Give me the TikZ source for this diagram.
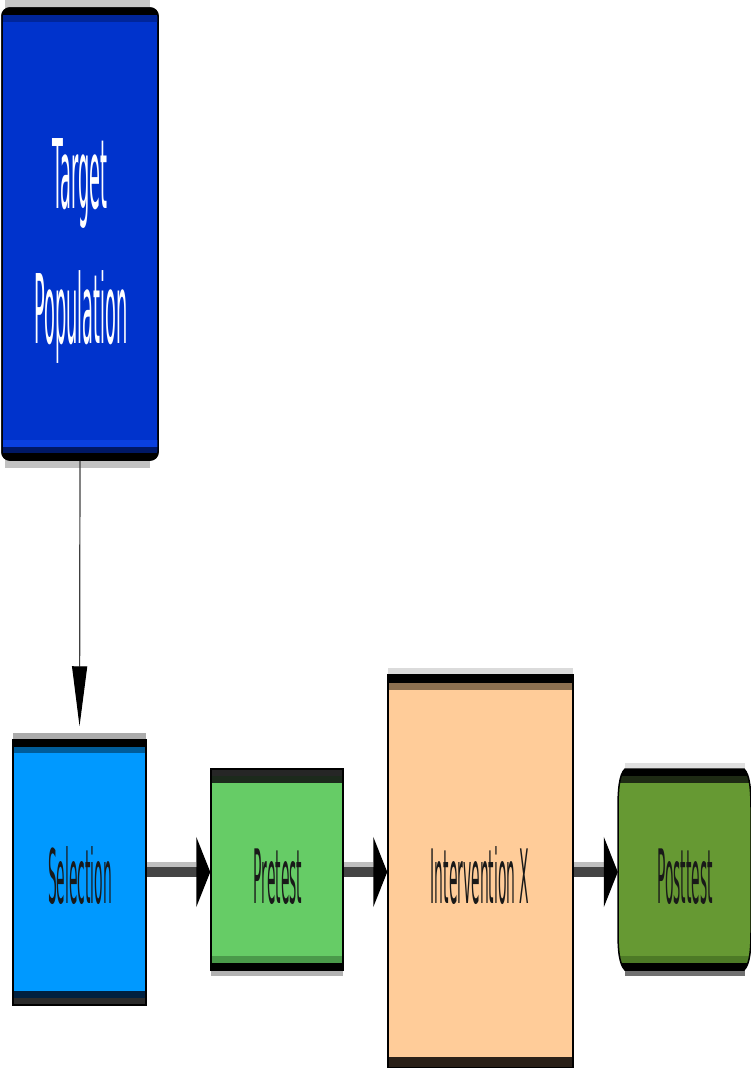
\documentclass[tikz,border=0pt]{standalone}
\usepackage{fontspec}
\setsansfont{DejaVu Sans}
\usetikzlibrary{arrows.meta,calc}
\definecolor{tblue}{HTML}{0033CC}
\definecolor{tbluedark}{HTML}{00259A}
\definecolor{tbluelight}{HTML}{0A40E0}
\definecolor{tbluenavy}{HTML}{001866}
\definecolor{sblue}{HTML}{0099FF}
\definecolor{sbluedark}{HTML}{005C99}
\definecolor{sbluenavy}{HTML}{002040}
\definecolor{pgreen}{HTML}{66CC66}
\definecolor{pgreendark}{HTML}{1C2A1C}
\definecolor{pgreenband}{HTML}{4A9A4A}
\definecolor{iorange}{HTML}{FFCC99}
\definecolor{ibrown}{HTML}{8C7050}
\definecolor{ibrowndark}{HTML}{2A2018}
\definecolor{ogreen}{HTML}{669933}
\definecolor{ogreendark}{HTML}{1E2A14}
\definecolor{ogreenband}{HTML}{4D7A26}
\definecolor{linedark}{HTML}{444444}
\newcommand{\sqz}[1]{\scalebox{0.185}[1]{#1}}
\tikzset{
  boxnode/.style={draw=black, line width=1.5pt, inner sep=0pt},
  ghostnode/.style={inner sep=0pt},
  lowtext/.style={anchor=base, inner sep=0pt, font=\sffamily\fontsize{75}{90}\selectfont, text=black!90},
  toptext/.style={anchor=base, inner sep=0pt, font=\sffamily\fontsize{96}{120}\selectfont, text=white},
  flowline/.style={draw=linedark, line width=10pt, -{Triangle[length=14pt 0 0, width=70pt 0 0, color=black]}},
  flowshadow/.style={draw=black!25, line width=5pt},
}
\begin{document}
\begin{tikzpicture}[x=1pt,y=-1pt]
\useasboundingbox[fill=white] (0,0) rectangle (751,1068);

% ---------- Target Population ----------
\fill[black!22] (5,0) rectangle (150,10);
\fill[black!24] (5,458) rectangle (150,468);
\node[boxnode, fill=tblue, rounded corners=8pt, minimum width=156pt, minimum height=452pt] (target) at (80,234) {};
\begin{scope}
  \clip[rounded corners=8pt] (2,8) rectangle (158,460);
  \fill[black] (2,8) rectangle (158,15);
  \fill[tbluedark] (2,15) rectangle (158,22);
  \fill[tbluelight] (2,440) rectangle (158,447);
  \fill[tbluenavy] (2,447) rectangle (158,453);
  \fill[black] (2,453) rectangle (158,460);
\end{scope}
\draw[black, line width=1.5pt, rounded corners=8pt] (2,8) rectangle (158,460);
\node[toptext] (ttarget) at (80,208) {\sqz{Target}};
\node[toptext] (tpop) at (81,343) {\sqz{Population}};

% ---------- Selection ----------
\fill[black!33] (13,733) rectangle (146,740);
\node[boxnode, fill=sblue, minimum width=133pt, minimum height=265pt] (selection) at (79.5,872.5) {};
\fill[black] (13,740) rectangle (146,747);
\fill[sbluedark] (13,747) rectangle (146,753);
\fill[sbluenavy] (13,991) rectangle (146,998);
\fill[black!83] (13,998) rectangle (146,1005);
\draw[black, line width=1.5pt] (13,740) rectangle (146,1005);
\node[lowtext] (tsel) at (80,903) {\sqz{Selection}};

% ---------- Pretest ----------
\fill[black!30] (211,970) rectangle (343,976);
\node[boxnode, fill=pgreen, minimum width=132pt, minimum height=201pt] (pretest) at (277,869.5) {};
\fill[black!85] (211,769) rectangle (343,776);
\fill[pgreendark] (211,776) rectangle (343,783);
\fill[pgreenband] (211,956) rectangle (343,963);
\fill[black] (211,963) rectangle (343,970);
\draw[black, line width=1.5pt] (211,769) rectangle (343,970);
\node[lowtext] (tpre) at (278,903) {\sqz{Pretest}};

% ---------- Intervention X ----------
\fill[black!14] (388,668) rectangle (573,675);
\node[boxnode, fill=iorange, minimum width=185pt, minimum height=393pt] (interv) at (480.5,871.5) {};
\fill[black] (388,675) rectangle (573,683);
\fill[ibrown] (388,683) rectangle (573,690);
\fill[ibrowndark] (388,1057) rectangle (573,1068);
\draw[black, line width=1.5pt] (388,675) rectangle (573,1068);
\node[lowtext] (tint) at (480,903) {\sqz{Intervention X}};

% ---------- Posttest ----------
\fill[black!12] (625,763) rectangle (745,769);
\fill[black!56] (625,970) rectangle (745,976);
\node[ghostnode, minimum width=132pt, minimum height=201pt] (posttest) at (684,869.5) {};
\begin{scope}
  \path[clip] (625,769) -- (744,769) .. controls (750,775) and (751,790) .. (751,810) -- (751,930)
     .. controls (751,950) and (750,964) .. (744,970) -- (625,970)
     .. controls (619,964) and (618,950) .. (618,930) -- (618,810)
     .. controls (618,790) and (619,775) .. (625,769) -- cycle;
  \fill[ogreen] (610,760) rectangle (760,980);
  \fill[black] (610,769) rectangle (760,776);
  \fill[ogreendark] (610,776) rectangle (760,783);
  \fill[ogreenband] (610,956) rectangle (760,963);
  \fill[black] (610,963) rectangle (760,970);
\end{scope}
\draw[black, line width=1.5pt] (625,769) -- (744,769) .. controls (750,775) and (751,790) .. (751,810) -- (751,930)
     .. controls (751,950) and (750,964) .. (744,970) -- (625,970)
     .. controls (619,964) and (618,950) .. (618,930) -- (618,810)
     .. controls (618,790) and (619,775) .. (625,769) -- cycle;
\node[lowtext] (tpost) at (685,903) {\sqz{Posttest}};

% ---------- Connectors ----------
\draw[black!75, line width=1.2pt, -{Triangle[length=60pt 0 0, width=15pt 0 0, color=black]}, shorten >=13pt] (target.south) -- (selection.north);

\coordinate (a1s) at ($(selection.east)+(0,-0.5)$);
\coordinate (a1e) at (pretest.west |- a1s);
\draw[flowshadow, shorten >=14pt] ($(a1s)+(0,-7.5)$) -- ($(a1e)+(0,-7.5)$);
\draw[flowline] (a1s) -- (a1e);

\coordinate (a2s) at (pretest.east |- a1s);
\coordinate (a2e) at (interv.west |- a1s);
\draw[flowshadow, shorten >=14pt] ($(a2s)+(0,-7.5)$) -- ($(a2e)+(0,-7.5)$);
\draw[flowline] (a2s) -- (a2e);

\coordinate (a3s) at (interv.east |- a1s);
\coordinate (a3e) at (posttest.west |- a1s);
\draw[flowshadow, shorten >=14pt] ($(a3s)+(0,-7.5)$) -- ($(a3e)+(0,-7.5)$);
\draw[flowline] (a3s) -- (a3e);
\end{tikzpicture}
\end{document}
